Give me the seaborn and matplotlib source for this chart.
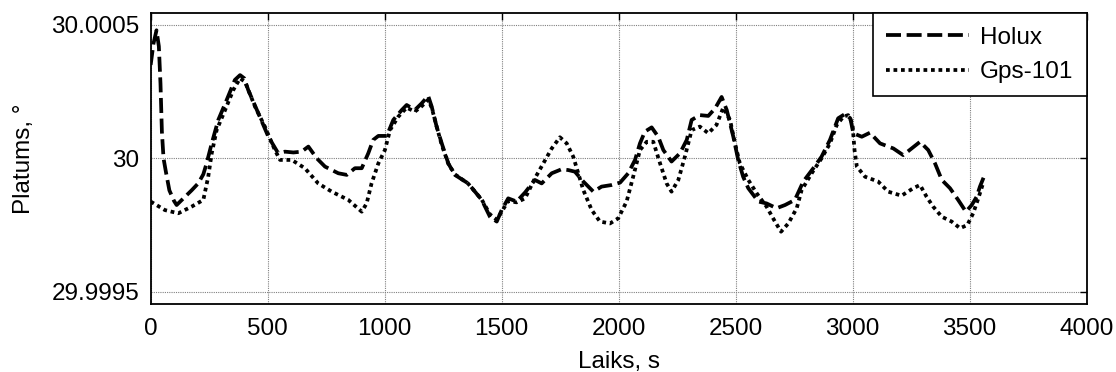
import matplotlib
matplotlib.use("Agg")
import matplotlib.pyplot as plt
import seaborn as sns
import pandas as pd

# --- data: time (s) and latitude deviation from 30 deg (in 1e-4 deg) ---
holux_t = [0, 12, 25, 35, 42, 48, 55, 65, 80, 100, 111, 140, 175, 203, 225, 239, 261, 289,
           325, 360, 382, 400, 417, 460, 503, 545, 574, 610, 645, 674, 710, 745, 802, 838,
           873, 902, 930, 951, 973, 1009, 1037, 1073, 1094, 1129, 1158, 1186, 1201, 1222,
           1244, 1272, 1300, 1357, 1415, 1450, 1479, 1500, 1528, 1564, 1600, 1642, 1671,
           1714, 1756, 1785, 1813, 1849, 1892, 1927, 1970, 2006, 2041, 2070, 2091, 2112,
           2141, 2169, 2191, 2226, 2262, 2291, 2312, 2347, 2383, 2412, 2440, 2462, 2490,
           2511, 2532, 2554, 2597, 2632, 2675, 2711, 2753, 2789, 2832, 2867, 2903, 2938,
           2967, 2990, 3003, 3039, 3074, 3117, 3174, 3216, 3252, 3288, 3323, 3352, 3381,
           3416, 3451, 3484, 3509, 3530, 3544, 3561]
holux_dev = [3.5, 4.3, 4.8, 4.2, 2.8, 1.0, 0.0, -0.5, -1.2, -1.6, -1.75, -1.5, -1.2, -0.94,
             -0.6, -0.19, 0.56, 1.44, 2.19, 2.94, 3.12, 3.0, 2.56, 1.69, 0.81, 0.19, 0.25,
             0.22, 0.25, 0.44, 0.0, -0.31, -0.56, -0.62, -0.37, -0.37, 0.19, 0.69, 0.84,
             0.84, 1.44, 1.81, 2.0, 1.81, 2.06, 2.34, 1.94, 1.19, 0.56, -0.19, -0.62, -0.94,
             -1.56, -2.19, -2.37, -1.94, -1.5, -1.62, -1.28, -0.81, -0.94, -0.56, -0.41,
             -0.44, -0.5, -0.87, -1.25, -1.06, -1.0, -0.91, -0.56, -0.06, 0.56, 1.0, 1.16,
             0.81, 0.31, -0.12, 0.19, 0.69, 1.44, 1.62, 1.59, 1.87, 2.3, 1.81, 0.81, -0.06,
             -0.69, -1.12, -1.62, -1.69, -1.87, -1.75, -1.56, -0.87, -0.37, 0.06, 0.69, 1.5,
             1.66, 1.5, 0.94, 0.81, 0.96, 0.56, 0.37, 0.12, 0.37, 0.62, 0.31, -0.19, -0.81,
             -1.12, -1.56, -2.0, -1.75, -1.44, -1.06, -0.69]

gps_t = [0, 61, 118, 175, 225, 246, 261, 282, 318, 353, 382, 403, 446, 488, 531, 553, 603,
         659, 716, 774, 845, 902, 923, 944, 973, 1001, 1023, 1058, 1094, 1129, 1158, 1186,
         1201, 1222, 1244, 1272, 1300, 1357, 1415, 1450, 1479, 1500, 1528, 1564, 1600, 1642,
         1678, 1714, 1749, 1778, 1806, 1849, 1885, 1920, 1963, 1998, 2034, 2062, 2091, 2120,
         2148, 2177, 2205, 2226, 2255, 2283, 2312, 2347, 2383, 2418, 2447, 2476, 2497, 2518,
         2554, 2590, 2632, 2668, 2694, 2725, 2761, 2782, 2825, 2867, 2903, 2932, 2960, 2981,
         2999, 3008, 3018, 3053, 3109, 3152, 3209, 3259, 3288, 3316, 3344, 3381, 3423, 3459,
         3490, 3515, 3537, 3555]
gps_dev = [-1.62, -1.94, -2.06, -1.81, -1.56, -0.69, 0.19, 1.06, 1.81, 2.56, 3.0, 2.87, 1.94,
           1.19, 0.31, -0.06, -0.06, -0.37, -0.94, -1.25, -1.56, -2.0, -1.69, -0.94, -0.19,
           0.31, 1.06, 1.56, 1.9, 1.75, 1.95, 2.2, 1.9, 1.2, 0.5, -0.2, -0.6, -0.95, -1.55,
           -2.1, -2.3, -2.0, -1.6, -1.65, -1.5, -0.75, -0.19, 0.37, 0.79, 0.56, 0.06, -1.19,
           -1.94, -2.37, -2.44, -2.25, -1.62, -0.69, 0.31, 0.62, 0.62, -0.19, -0.94, -1.25,
           -0.81, 0.06, 1.06, 1.19, 0.94, 1.25, 1.9, 1.44, 0.56, -0.19, -0.81, -1.31, -1.81,
           -2.37, -2.75, -2.44, -1.87, -1.19, -0.56, 0.0, 0.56, 1.25, 1.56, 1.62, 1.31, 0.31,
           -0.31, -0.69, -0.87, -1.25, -1.4, -1.12, -1.0, -1.44, -1.81, -2.19, -2.37, -2.62,
           -2.5, -2.06, -1.5, -1.0]

x_ticks = [0, 500, 1000, 1500, 2000, 2500, 3000, 3500, 4000]
y_ticks = [29.9995, 30.0, 30.0005]
y_tick_labels = ["29.9995", "30", "30.0005"]

holux = pd.DataFrame({"t": holux_t, "lat": [30 + d * 1e-4 for d in holux_dev]})
gps = pd.DataFrame({"t": gps_t, "lat": [30 + d * 1e-4 for d in gps_dev]})

# --- style ---
sns.set_theme(style="white")
plt.rcParams["font.family"] = ["Liberation Sans", "DejaVu Sans"]
plt.rcParams["text.color"] = "black"
plt.rcParams["axes.labelcolor"] = "black"

fig = plt.figure(figsize=(11.16, 3.72), dpi=100)
ax = fig.add_axes([0.135, 0.1828, 0.8387, 0.781])

sns.lineplot(data=holux, x="t", y="lat", ax=ax, color="black", lw=2.7,
             linestyle=(0, (4, 1.5)), estimator=None, label="Holux")
sns.lineplot(data=gps, x="t", y="lat", ax=ax, color="black", lw=2.7,
             linestyle=(0, (1, 1)), estimator=None, label="Gps-101")

ax.set_xlim(0, 4000)
ax.set_ylim(29.999454, 30.000543)
ax.set_xticks(x_ticks)
ax.set_xticklabels([str(v) for v in x_ticks])
ax.set_yticks(y_ticks)
ax.set_yticklabels(y_tick_labels)

ax.grid(True, color="#808080", linestyle=(0, (1, 1)), linewidth=0.8)
ax.tick_params(direction="in", length=5, width=1, top=True, right=True,
               labelsize=17.5, colors="black")
ax.tick_params(axis="x", pad=10)
ax.tick_params(axis="y", pad=8)
for s in ax.spines.values():
    s.set_color("black")
    s.set_linewidth(1.3)

ax.set_xlabel("Laiks, s", fontsize=17.5)
ax.set_ylabel("Platums, °", fontsize=17.5)
ax.xaxis.set_label_coords(0.5, -0.163)
ax.yaxis.set_label_coords(-0.124, 0.5)

leg = ax.legend(loc="upper right", borderaxespad=0, fontsize=17.5, handlelength=3.4,
                handletextpad=0.45, labelspacing=0.5, borderpad=0.55,
                fancybox=False, framealpha=1, edgecolor="black")
leg.get_frame().set_linewidth(1.2)

fig.savefig("out.png", dpi=100)
